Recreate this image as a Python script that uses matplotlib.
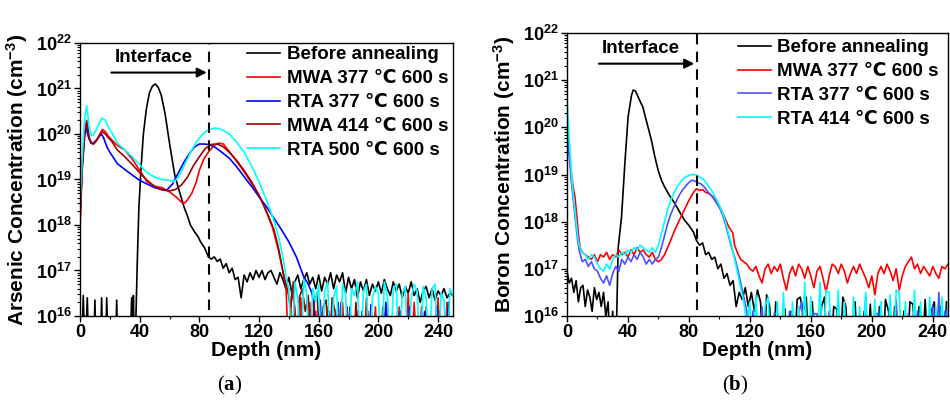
import numpy as np
import matplotlib
matplotlib.use("Agg")
import matplotlib.pyplot as plt
from matplotlib.ticker import MultipleLocator, LogLocator, NullFormatter

plt.rcParams["font.family"] = ["Liberation Sans", "DejaVu Sans"]
plt.rcParams["font.weight"] = "bold"
plt.rcParams["mathtext.fontset"] = "custom"
plt.rcParams["mathtext.rm"] = "Liberation Sans:bold"
plt.rcParams["mathtext.bf"] = "Liberation Serif:bold"
plt.rcParams["mathtext.default"] = "rm"


def steps(start, vals):
    # SIMS samples on a 2 nm grid
    return start + 2.0 * np.arange(len(vals)), np.array(vals)


def series(*parts):
    d = np.concatenate([np.asarray(p[0], float) for p in parts])
    v = np.concatenate([np.asarray(p[1], float) for p in parts])
    return d, 10.0 ** v


# ---------------- (a) arsenic, log10 concentration ----------------
as_before_d = [0, 1, 2.2, 3.4, 4.9, 6, 9, 10, 11, 13.5, 14.5, 15.5, 17, 17.9, 19,
               23.6, 24.6, 25.6, 33.5, 34.6, 35.2, 35.8, 36.5, 37.5, 38.5, 39.5,
               41, 42.5, 44.5, 46.5, 48.5, 50.5, 52.5, 54.5, 57, 60, 63.5, 66.5,
               69.7, 72, 74, 76.8, 79, 81, 83.5]
as_before_v = [15, 15, 16.45, 15, 16.4, 15, 15, 16.35, 15, 15, 16.4, 15, 15, 16.4,
               15, 15, 16.35, 15, 15, 16.4, 15.5, 16.45, 15, 16.0, 17.3, 18.4,
               19.3, 20.0, 20.55, 20.9, 21.05, 21.1, 21.02, 20.85, 20.45, 19.8,
               19.1, 18.75, 18.4, 18.2, 18.0, 17.85, 17.75, 17.62, 17.5]
as_before_tail = [17.3, 17.25, 17.3, 17.2, 17.25, 17.05, 17.15, 16.95, 17.05, 16.8,
                  16.85, 16.4, 16.9, 16.75, 16.95, 16.8, 17.0, 16.85, 17.0, 16.8,
                  16.95, 17.0, 16.85, 16.7, 16.95, 16.8, 16.6, 16.85, 16.5, 16.75,
                  16.9, 16.6, 16.8, 16.95, 16.7, 16.85, 16.6, 16.9, 16.55, 16.85,
                  16.7, 16.95, 16.6, 16.9, 16.75, 16.95, 16.5, 16.85, 16.6, 16.8,
                  16.4, 16.75, 16.55, 16.8, 16.45, 16.7, 16.55, 16.75, 16.5, 16.8,
                  16.6, 16.45, 16.75, 16.55, 16.7, 16.4, 16.65, 16.5, 16.75, 16.45,
                  16.6, 16.3, 16.55, 16.65, 16.4, 16.6, 16.35, 16.55, 16.45, 16.6,
                  16.4, 16.5, 16.45]

as_mwa377_d = [0, 1.5, 3, 4.5, 6, 7.5, 9, 11, 13, 15, 17, 19, 21, 25, 30, 35, 40,
               45, 50, 55, 60, 65, 68, 70, 72, 75, 78, 80, 83, 86, 90, 93, 96,
               100, 105, 110, 115, 120, 123, 126, 129, 131, 133, 135, 136.5]
as_mwa377_v = [17.9, 19.2, 19.9, 20.25, 19.9, 19.8, 19.78, 19.85, 19.98, 20.1,
               20.05, 19.95, 19.88, 19.75, 19.65, 19.45, 19.2, 18.95, 18.85, 18.82,
               18.73, 18.6, 18.5, 18.48, 18.55, 18.7, 18.95, 19.2, 19.45, 19.6,
               19.75, 19.8, 19.78, 19.62, 19.4, 19.17, 18.92, 18.65, 18.45, 18.2,
               17.95, 17.7, 17.45, 17.15, 16.9]
as_mwa377_tail = [16.7, 15, 16.55, 16.2, 15, 16.4, 15, 15, 16.3, 15, 16.1, 15, 15,
                  15, 16.2, 15, 15, 15, 15, 16.3, 15, 15, 15, 15, 16.1, 15, 15,
                  16.4, 15, 15, 16.2, 15, 15, 15, 16.3, 15, 15, 15, 16.2, 15, 15,
                  16.5, 15, 16.3, 15, 15, 15, 16.2, 15, 15, 15, 16.4, 15, 15, 16.3,
                  15, 15]

as_rta377_d = [0, 1.5, 3, 4, 5.5, 7.5, 9, 11, 13, 14.5, 16, 18, 20, 25, 30, 35,
               40, 45, 50, 55, 58, 62, 66, 70, 74, 77, 80, 83, 86, 90, 95, 100,
               105, 110, 115, 120, 125, 130, 135, 140, 145, 150, 153, 155.5]
as_rta377_v = [18.3, 19.3, 19.95, 20.15, 19.95, 19.8, 19.8, 19.87, 19.95, 20.0,
               19.9, 19.72, 19.6, 19.35, 19.22, 19.1, 18.98, 18.9, 18.82, 18.78,
               18.76, 18.9, 19.15, 19.4, 19.6, 19.72, 19.78, 19.78, 19.77, 19.72,
               19.6, 19.47, 19.28, 19.06, 18.85, 18.62, 18.4, 18.15, 17.9, 17.63,
               17.3, 16.86, 16.7, 16.5]
as_rta377_tail = [16.2, 15, 16.35, 15, 15, 16.1, 15, 15, 16.3, 15, 15, 15, 16.2,
                  15, 15, 15, 16.1, 15, 15, 16.25, 15, 15, 15, 15, 16.3, 15, 15,
                  15, 16.1, 15, 15, 15, 16.2, 15, 15, 15, 15, 16.1, 15, 15, 15,
                  16.2, 15, 15, 15, 16.3, 15]

as_mwa414_d = [0, 1.5, 3, 4.5, 6, 7.5, 9, 11, 13, 15, 17, 19, 21, 25, 30, 35, 40,
               45, 50, 55, 60, 64, 68, 72, 76, 80, 84, 88, 92, 96, 100, 105, 110,
               115, 120, 125, 130, 133, 135, 137]
as_mwa414_v = [18.1, 19.3, 20.0, 20.3, 19.95, 19.8, 19.78, 19.85, 19.97, 20.05,
               20.0, 19.92, 19.85, 19.65, 19.5, 19.33, 19.15, 18.98, 18.85, 18.77,
               18.75, 18.78, 18.88, 19.05, 19.3, 19.5, 19.68, 19.77, 19.78, 19.72,
               19.6, 19.42, 19.2, 18.95, 18.65, 18.3, 17.9, 17.5, 17.15, 16.8]
as_mwa414_tail = [16.6, 16.2, 16.75, 15, 16.4, 16.6, 16.1, 16.45, 15, 16.3, 16.5,
                  15, 16.2, 16.35, 15, 16.4, 16.1, 15, 16.3, 15, 16.2, 15, 15,
                  16.3, 15, 15, 15, 16.1, 15, 15, 15, 15, 16.2, 15, 15, 15, 15, 15,
                  16.1, 15, 15, 15, 15, 15, 15, 16.2, 15, 15, 15, 15, 15, 16.1, 15,
                  15, 15, 15]

as_rta500_d = [0, 1.5, 3, 4.5, 6, 7.5, 9, 11, 13, 15, 17, 19, 21, 25, 30, 35, 40,
               45, 50, 55, 60, 63, 66, 69, 72, 75, 78, 81, 84, 87, 90, 93, 96,
               100, 105, 110, 115, 120, 125, 130, 133, 135, 137, 138.5]
as_rta500_v = [18.4, 19.5, 20.3, 20.62, 20.2, 19.96, 19.98, 20.1, 20.25, 20.35,
               20.3, 20.15, 20.05, 19.8, 19.65, 19.5, 19.32, 19.15, 19.05, 19.0,
               18.98, 18.95, 19.05, 19.25, 19.45, 19.65, 19.82, 19.95, 20.05, 20.1,
               20.13, 20.12, 20.08, 20.0, 19.82, 19.6, 19.3, 18.95, 18.55, 18.1,
               17.75, 17.45, 17.1, 16.8]
as_rta500_tail = [16.6, 15, 16.75, 16.4, 15, 16.8, 16.5, 15, 16.6, 16.3, 16.7, 15,
                  16.55, 16.75, 15, 16.4, 16.65, 15, 16.7, 16.5, 15, 16.6, 16.45,
                  16.75, 15, 16.55, 16.7, 15, 16.4, 16.65, 16.5, 15, 16.75, 16.45,
                  15, 16.6, 16.7, 15, 16.5, 16.65, 15, 16.4, 16.7, 16.55, 15, 16.65,
                  16.4, 15, 16.6, 16.7, 15, 16.5, 16.35, 15, 16.6, 16.45]

# ---------------- (b) boron, log10 concentration ----------------
b_before_d = [0, 1.5, 3, 4.5, 6, 7.5, 9, 10.5, 12, 13.5, 15, 16.5, 18, 19.5, 21,
              22.5, 24, 25.5, 27, 28.5, 30, 31.5, 32.5, 33.6, 35.8, 38, 40.1,
              42.3, 43.4, 45, 47, 49.8, 52, 55.4, 57.5, 59.8, 62, 64, 67, 70.7,
              74, 77.2, 80, 83, 85, 87, 89, 91, 93, 95, 97, 99, 101, 103, 105,
              107, 109, 111]
b_before_v = [16.95, 16.7, 16.8, 16.5, 16.75, 16.3, 16.6, 16.65, 16.2, 16.55,
              16.4, 16.1, 16.6, 16.35, 16.5, 16.2, 16.5, 16.0, 16.3, 15.0, 16.1,
              15.0, 15.8, 17.45, 18.1, 19.24, 20.22, 20.67, 20.79, 20.77, 20.62,
              20.43, 20.15, 19.73, 19.4, 19.09, 18.88, 18.74, 18.57, 18.39, 18.2,
              18.03, 17.92, 17.78, 17.6, 17.5, 17.55, 17.3, 17.35, 17.2, 17.25,
              17.0, 17.1, 16.8, 16.9, 16.65, 16.75, 16.2]
b_before_tail = [16.5, 16.35, 16.6, 16.2, 16.5, 16.1, 16.55, 16.3, 15, 16.45, 16.2,
                 15, 16.3, 15, 15, 16.15, 15, 16.1, 15, 16.35, 16.4, 16.1, 16.4,
                 15, 16.3, 15, 15, 16.2, 16.4, 15, 15, 16.2, 16.15, 15, 16.4, 16.2,
                 15, 15, 16.3, 15, 15, 16.1, 15, 16.25, 15, 15, 16.2, 15, 16.35,
                 16.1, 15, 16.2, 15, 15, 16.1, 15, 16.3, 16.25, 15, 16.2, 15,
                 16.35, 15, 16.1, 16.3, 15, 16.2, 15, 16.3]

b_mwa377_d = [0, 1, 2, 3, 4, 5.2, 6.5, 7.5, 8.5, 10, 12]
b_mwa377_v = [19.8, 19.6, 19.3, 19.0, 18.75, 18.53, 18.1, 17.75, 17.47, 17.35,
              17.3]
b_mwa377_mid = [17.25, 17.2, 17.3, 17.15, 17.3, 17.25, 17.35, 17.2, 17.3, 17.25,
                17.4, 17.3, 17.35, 17.25, 17.4, 17.3, 17.45, 17.35, 17.4, 17.3,
                17.25, 17.35, 17.2, 17.15, 17.2, 17.3]
b_mwa377_peak_d = [66, 68, 70.7, 74, 77, 80, 83, 85, 87, 89, 91, 93, 95.7, 98,
                   100, 102.3, 104, 106, 108.8, 110, 112, 114]
b_mwa377_peak_v = [17.45, 17.6, 17.82, 18.05, 18.25, 18.45, 18.62, 18.7, 18.66,
                   18.68, 18.62, 18.6, 18.53, 18.45, 18.32, 18.18, 18.05, 17.9,
                   17.76, 17.5, 17.33, 17.2]
b_mwa377_tail = [17.15, 17.1, 17.0, 16.95, 17.05, 16.85, 16.7, 17.0, 17.1, 16.9,
                 17.05, 16.95, 17.1, 16.8, 16.55, 16.9, 17.05, 16.85, 17.1, 17.0,
                 16.8, 17.05, 16.85, 16.6, 16.95, 17.05, 16.8, 16.5, 16.85, 17.1,
                 17.05, 16.9, 17.1, 16.95, 16.7, 16.9, 17.05, 16.9, 17.1, 16.95,
                 16.8, 16.6, 16.85, 16.45, 16.9, 17.05, 16.9, 17.1, 16.95, 16.75,
                 17.0, 16.55, 16.85, 17.05, 17.15, 17.25, 17.0, 17.1, 16.9, 17.05,
                 16.95, 16.85, 17.05, 16.9, 16.8, 17.05, 17.0, 17.1]

b_rta377_d = [0, 1, 2, 3, 4, 5, 6, 7, 8, 10]
b_rta377_v = [20.0, 19.6, 19.2, 18.8, 18.5, 18.2, 17.9, 17.6, 17.4, 17.15]
b_rta377_mid = [17.2, 17.05, 17.15, 17.0, 16.95, 16.8, 16.7, 16.85, 16.65, 16.9,
                17.05, 16.95, 17.2, 17.1, 17.25, 17.15, 17.3, 17.2, 17.35, 17.25,
                17.1, 17.2, 17.1, 17.2, 17.25, 17.45, 17.7, 17.95, 18.15, 18.3,
                18.45, 18.58, 18.68, 18.76, 18.83, 18.88, 18.86, 18.82, 18.8,
                18.74, 18.65, 18.58, 18.5, 18.4, 18.3, 18.15, 17.95, 17.7, 17.45,
                17.25, 17.0, 16.7, 16.4, 16.1, 15.6]
b_rta377_tail = [15, 16.1, 15, 15, 16.2, 15, 15, 15, 16.05, 16.05, 15, 15, 15,
                 16.1, 15, 15, 16.05, 16.3, 15, 15, 15, 16.05, 16.05, 15, 15, 15,
                 16.1, 15, 15, 15, 15, 16.05, 15, 15, 16.1, 15, 15, 15, 16.4, 15,
                 15, 16.05, 16.05, 15, 15, 15, 16.1, 15, 16.35, 15, 15, 15, 16.05,
                 15, 15, 16.1, 15, 15, 15, 15, 16.2, 15, 16.5, 15, 16.1, 15]

b_rta414_d = [0, 1, 2, 3, 4, 5, 6, 7, 8, 10]
b_rta414_v = [20.6, 20.0, 19.5, 19.0, 18.6, 18.3, 18.0, 17.7, 17.5, 17.35]
b_rta414_mid = [17.3, 17.2, 17.3, 17.25, 17.1, 17.0, 16.95, 17.1, 17.0, 17.2,
                17.3, 17.25, 17.35, 17.3, 17.4, 17.35, 17.45, 17.4, 17.5, 17.45,
                17.4, 17.35, 17.45, 17.35, 17.5, 17.75, 18.0, 18.25, 18.45, 18.6,
                18.72, 18.82, 18.9, 18.95, 18.98, 19.0, 19.0, 18.97, 18.93, 18.88,
                18.8, 18.7, 18.6, 18.48, 18.35, 18.2, 18.0, 17.75, 17.5, 17.2,
                16.9, 16.6, 16.3, 15.8]
b_rta414_tail = [16.3, 15, 16.45, 15, 15, 16.2, 16.4, 15, 15, 16.3, 15, 16.5, 15,
                 15, 16.3, 15, 16.2, 15, 16.72, 15, 16.4, 15, 15, 16.72, 15, 16.55,
                 16.5, 15, 15, 16.55, 15, 16.3, 15, 15, 16.4, 15, 16.2, 15, 16.5,
                 15, 15, 16.35, 15, 16.3, 15, 15, 16.45, 15, 16.55, 16.5, 15, 16.3,
                 15, 15, 16.55, 15, 16.3, 15, 15, 16.4, 15, 16.2, 15, 16.4, 15,
                 16.3]

labels_a = ["Before annealing", "MWA 377 \u2103 600 s", "RTA 377 \u2103 600 s",
            "MWA 414 \u2103 600 s", "RTA 500 \u2103 600 s"]
labels_b = ["Before annealing", "MWA 377 \u2103 600 s", "RTA 377 \u2103 600 s",
            "RTA 414 \u2103 600 s"]
ytick_vals = [1e16, 1e17, 1e18, 1e19, 1e20, 1e21, 1e22]
ytick_labels = [r"$10^{%d}$" % k for k in range(16, 23)]
xtick_vals = [0, 40, 80, 120, 160, 200, 240]
interface_a = 86.5
interface_b = 85.0

curves_a = [
    series((as_before_d, as_before_v), steps(86, as_before_tail)),
    series((as_mwa377_d, as_mwa377_v), steps(138, as_mwa377_tail)),
    series((as_rta377_d, as_rta377_v), steps(157, as_rta377_tail)),
    series((as_mwa414_d, as_mwa414_v), steps(139, as_mwa414_tail)),
    series((as_rta500_d, as_rta500_v), steps(140, as_rta500_tail)),
]
curves_b = [
    series((b_before_d, b_before_v), steps(113, b_before_tail)),
    series((b_mwa377_d, b_mwa377_v), steps(14, b_mwa377_mid),
           (b_mwa377_peak_d, b_mwa377_peak_v), steps(116, b_mwa377_tail)),
    series((b_rta377_d, b_rta377_v), steps(12, b_rta377_mid),
           steps(120, b_rta377_tail)),
    series((b_rta414_d, b_rta414_v), steps(12, b_rta414_mid),
           steps(120, b_rta414_tail)),
]
colors_a = ["black", "#ff0000", "#0000ff", "#a00000", "#00ffff"]
colors_b = ["black", "#ff0000", "#4f4fff", "#00ffff"]

fig = plt.figure(figsize=(9.5, 4.07), dpi=100)
ax_a = fig.add_axes([0.0842, 0.2236, 0.3926, 0.6708])
ax_b = fig.add_axes([0.5968, 0.2236, 0.4011, 0.6953])


def draw_panel(ax, curves, colors, labels, ylabel, x_int, leg_anchor):
    for (d, c), col, lab in zip(curves, colors, labels):
        ax.plot(d, c, color=col, lw=1.2, label=lab)
    ax.set_yscale("log")
    ax.set_xlim(0, 250)
    ax.set_ylim(1e16, 1e22)
    ax.set_yticks(ytick_vals)
    ax.set_yticklabels(ytick_labels)
    ax.yaxis.set_minor_locator(LogLocator(base=10, subs=np.arange(2, 10), numticks=20))
    ax.yaxis.set_minor_formatter(NullFormatter())
    ax.set_xticks(xtick_vals)
    ax.xaxis.set_minor_locator(MultipleLocator(20))
    ax.tick_params(which="major", direction="out", length=4, width=1,
                   labelsize=13, pad=2)
    ax.tick_params(which="minor", direction="out", length=2.5, width=0.8)
    for lab in ax.get_xticklabels():
        lab.set_fontweight("bold")
    for sp in ax.spines.values():
        sp.set_linewidth(1.0)
    ax.set_xlabel("Depth (nm)", fontsize=15, fontweight="bold", labelpad=0)
    ax.set_ylabel(ylabel, fontsize=15, fontweight="bold", labelpad=4)

    # interface marker
    ax.plot([x_int, x_int], [1.35e16, 1e22], color="black", lw=1.5,
            dashes=(5, 3.5))
    ax.annotate("", xy=(x_int - 1.5, 10 ** 21.35), xytext=(21, 10 ** 21.35),
                arrowprops=dict(arrowstyle="-|>", color="black", lw=1.5,
                                mutation_scale=14, shrinkA=0, shrinkB=0))
    ax.text(23, 10 ** 21.67, "Interface", fontsize=13.5, fontweight="bold",
            va="center", ha="left")

    ax.legend(loc="upper right", bbox_to_anchor=leg_anchor, frameon=False,
              fontsize=13.5, handlelength=1.75, handletextpad=0.35,
              labelspacing=0.36, borderpad=0.1, borderaxespad=0.15)


draw_panel(ax_a, curves_a, colors_a, labels_a,
           "Arsenic Concentration (cm$^{-3}$)", interface_a, (1.0, 1.005))
draw_panel(ax_b, curves_b, colors_b, labels_b,
           "Boron Concentration (cm$^{-3}$)", interface_b, (0.988, 0.995))

fig.text(0.242, 0.054, r"($\mathbf{a}$)", family="Liberation Serif",
         fontweight="normal", fontsize=15, ha="center", va="center")
fig.text(0.774, 0.054, r"($\mathbf{b}$)", family="Liberation Serif",
         fontweight="normal", fontsize=15, ha="center", va="center")

fig.savefig("out.png", dpi=100, facecolor="white")
